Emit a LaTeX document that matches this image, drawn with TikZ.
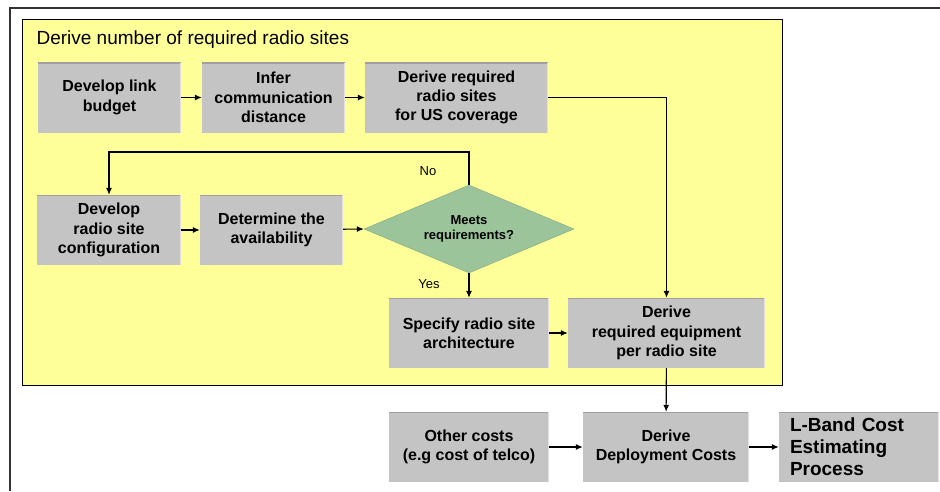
\documentclass[tikz,border=0pt]{standalone}
\usepackage{fontspec}
\setmainfont{Liberation Sans}
\usepackage{xcolor}
\usepackage{tikz}
\usetikzlibrary{shapes.geometric,arrows.meta}
\definecolor{boxgray}{RGB}{196,196,196}
\definecolor{boxtop}{RGB}{160,160,160}
\definecolor{boxside}{RGB}{225,225,225}
\definecolor{areayellow}{RGB}{255,255,153}
\definecolor{decgreen}{RGB}{155,196,155}
\newcommand{\boxfont}{\fontsize{16}{19.3}\selectfont\bfseries}

\begin{document}
\begin{tikzpicture}[x=1pt,y=-1pt,
  procbox/.style={fill=boxgray,minimum height=70pt,inner sep=2pt,align=center,font=\boxfont,
    path picture={
      \draw[line width=2pt,boxtop] (path picture bounding box.north west) -- (path picture bounding box.north east);
      \draw[line width=3pt,boxside] (path picture bounding box.north east) -- (path picture bounding box.south east);}},
  flow/.style={line width=1.1pt,-{Latex[length=7pt,width=6pt]}}]
\useasboundingbox (0,0) rectangle (940,491);

% frame and the radio site area
\draw[line width=1.5pt,black!80] (10,491) -- (10,8) -- (940,8);
\draw[fill=areayellow,line width=0.8pt] (22,19) rectangle (782,385);
\node[anchor=west,font=\fontsize{19}{22}\selectfont] (title) at (33,40) {Derive number of required radio sites};

% first row
\node[procbox,minimum width=143pt] (budget) at (109.5,97.5) {Develop link\\budget};
\node[procbox,minimum width=143pt] (distance) at (273.5,97.5) {Infer\\communication\\distance};
\node[procbox,minimum width=183pt] (sites) at (456.5,97.5) {Derive required\\radio sites\\for US coverage};

% second row
\node[procbox,minimum width=144pt] (config) at (109,230) {Develop\\radio site\\configuration};
\node[procbox,minimum width=143pt] (avail) at (271.5,230) {Determine the\\availability};
\node[diamond,fill=decgreen,draw=decgreen!85!black,line width=0.4pt,aspect=2.4,inner sep=0pt,
  minimum width=210pt,minimum height=88pt,align=center,
  font=\fontsize{13}{15.6}\selectfont\bfseries] (meets) at (469,229) {Meets\\requirements?};

% third row
\node[procbox,minimum width=160pt] (arch) at (469,333) {Specify radio site\\architecture};
\node[procbox,minimum width=197pt] (equip) at (666.5,333) {Derive\\required equipment\\per radio site};

% cost row
\node[procbox,minimum width=160pt] (other) at (469,447) {Other costs\\(e.g cost of telco)};
\node[procbox,minimum width=166pt] (deploy) at (666,447) {Derive\\Deployment Costs};
\node[procbox,minimum width=160pt,text width=138pt,align=left,
  font=\fontsize{19}{22}\selectfont\bfseries] (lband) at (859,447) {L-Band Cost\\Estimating\\Process};

\coordinate (noturn) at (469,152);

\draw[flow] (budget) -- (distance);
\draw[flow] (distance) -- (sites);
\draw[flow] (sites.east) -| (equip.north);
\draw[flow] (config) -- (avail);
\draw[flow] (avail) -- (meets.west);
\draw[flow] (meets.north) -- (noturn) -| (config.north);
\node[font=\fontsize{13}{15}\selectfont] (nolabel) at (428,171) {No};
\draw[flow] (meets.south) -- (arch.north);
\node[font=\fontsize{13}{15}\selectfont] (yeslabel) at (429,284) {Yes};
\draw[flow] (arch) -- (equip);
\draw[flow] (equip) -- (deploy);
\draw[flow] (other) -- (deploy);
\draw[flow] (deploy) -- (lband);
\end{tikzpicture}
\end{document}
